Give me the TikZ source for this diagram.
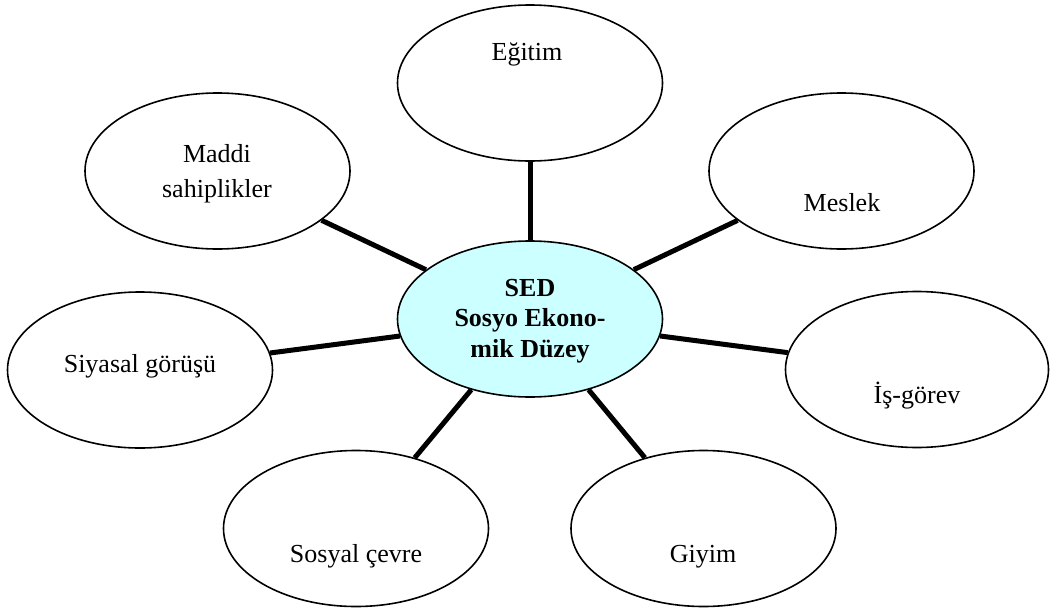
\documentclass[tikz,border=0pt]{standalone}
\usepackage{fontspec}
\setmainfont{Liberation Serif}
\usetikzlibrary{shapes.geometric}
\definecolor{sedfill}{RGB}{204,255,255}
\tikzset{
  oval/.style={ellipse, draw=black, line width=1.6pt, minimum width=265pt, minimum height=156pt, inner sep=0pt, fill=white},
  lbl/.style={font=\fontsize{26}{35}\selectfont, align=center, anchor=base, inner sep=0pt},
  bold/.style={font=\fontsize{26}{30.5}\selectfont\bfseries, align=center, inner sep=0pt},
  spoke/.style={line width=5pt}
}
\begin{document}
\begin{tikzpicture}[x=1pt,y=-1pt]
\useasboundingbox (0,0) rectangle (1050,608);
\node[oval] (egitim) at (530,83) {};
\node[oval] (maddi) at (217.5,171) {};
\node[oval] (meslek) at (841.5,171) {};
\node[oval, fill=sedfill] (sed) at (530,319) {};
\node[oval] (siyasal) at (140,370) {};
\node[oval, minimum width=263pt] (is) at (917,369.5) {};
\node[oval] (sosyal) at (356,528.5) {};
\node[oval] (giyim) at (703.5,528.5) {};

\node[lbl] (tegitim) at (527,60) {Eğitim};
\node[lbl] (tmaddi) at (217,197) {Maddi\\sahiplikler};
\node[lbl] (tmeslek) at (842,211) {Meslek};
\node[lbl] (tsiyasal) at (140,372) {Siyasal görüşü};
\node[lbl] (tis) at (917,403) {İş-görev};
\node[lbl] (tsosyal) at (356,562) {Sosyal çevre};
\node[lbl] (tgiyim) at (703,562) {Giyim};
\node[bold] (tsed) at (530,321) {SED\\Sosyo Ekono-\\mik Düzey};

\foreach \n in {egitim,maddi,meslek,siyasal,is,sosyal,giyim}
  \draw[spoke] (sed) -- (\n);
\end{tikzpicture}
\end{document}
